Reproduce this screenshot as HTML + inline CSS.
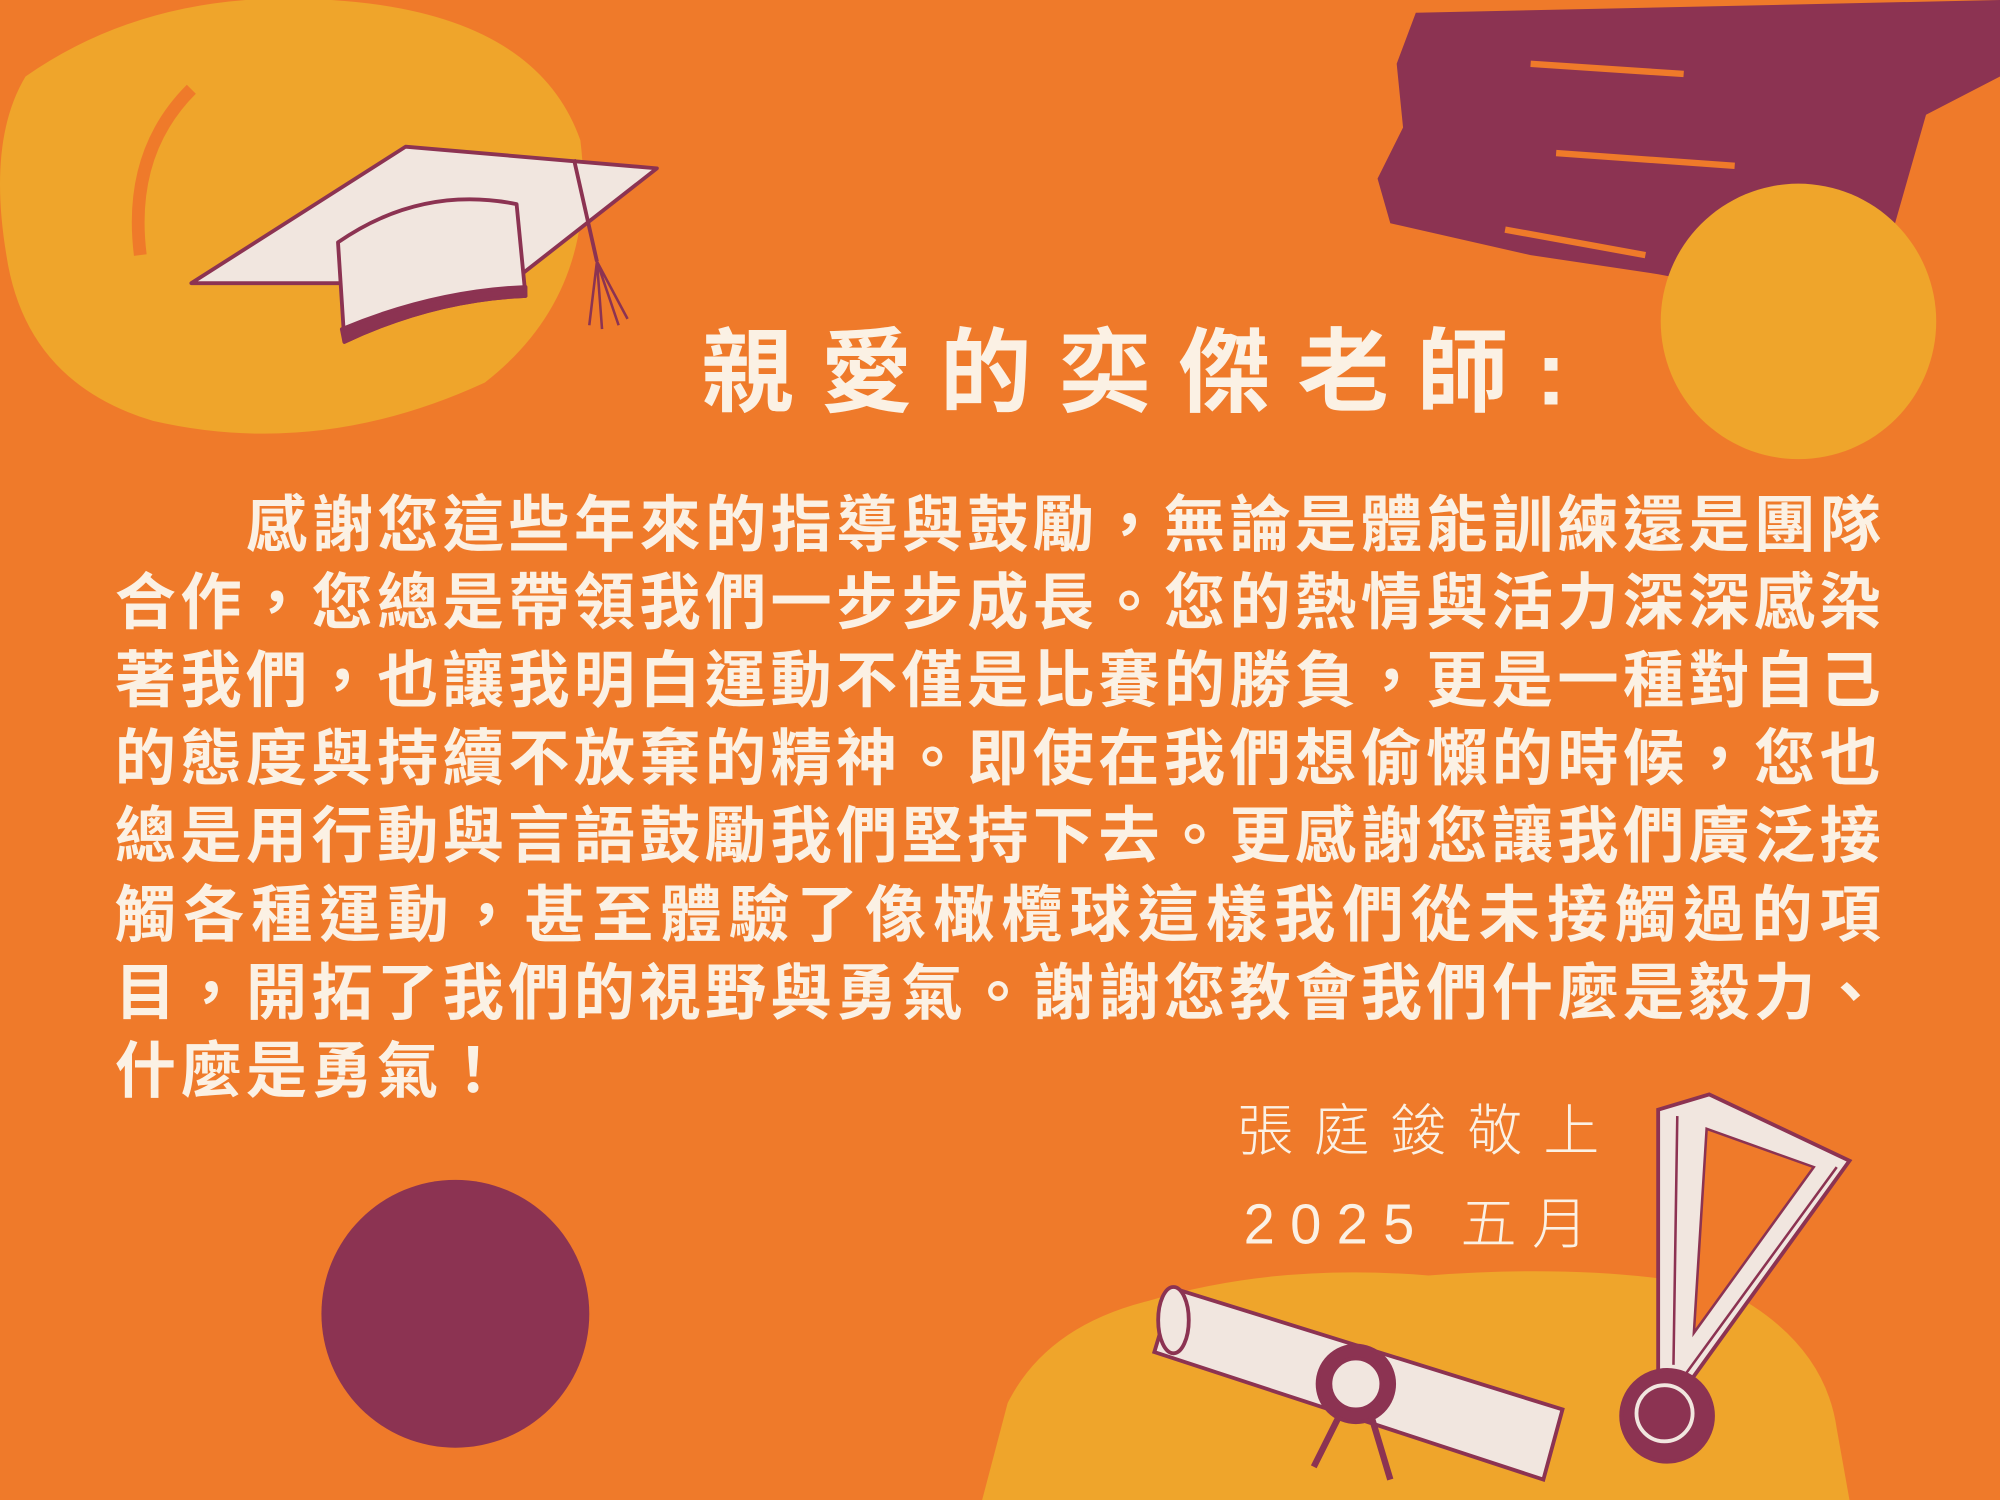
<!DOCTYPE html>
<html><head><meta charset="utf-8"><style>
html,body{margin:0;padding:0;width:2000px;height:1500px;overflow:hidden;background:#ef7a2a}
svg{display:block}
.t{font-family:"Liberation Sans","Noto Sans CJK TC",sans-serif;fill:#fbf1e4}
</style></head><body>
<svg width="2000" height="1500" viewBox="0 0 1568 1176" xmlns="http://www.w3.org/2000/svg">
<rect width="1568" height="1176" fill="#ef7a2a"/>
<g>
<path d="M20 60 Q120 -10 260 0 Q420 10 455 110 Q470 230 380 300 Q250 360 120 330 Q20 300 5 200 Q-10 110 20 60Z" fill="#efa52b"/>
<path d="M150 70 Q100 120 110 200" stroke="#ef7a2a" stroke-width="10" fill="none"/>
</g>
<g>
<path d="M1110 10 L1568 0 L1568 60 L1510 90 L1490 160 L1470 230 L1380 230 L1300 215 L1200 200 L1090 175 L1080 140 L1100 100 L1095 50Z" fill="#8c3352"/>
<path d="M1200 50 L1320 58 M1220 120 L1360 130 M1180 180 L1290 200" stroke="#ef7a2a" stroke-width="5" fill="none"/>
</g>
<circle cx="1410" cy="252" r="108" fill="#efa52b"/>
<circle cx="357" cy="1030" r="105" fill="#8c3352"/>
<path d="M770 1176 L790 1100 Q820 1040 900 1020 Q1000 990 1120 1000 Q1250 990 1350 1010 Q1430 1050 1440 1120 L1450 1176Z" fill="#efa52b"/>
<g stroke="#8c3352" stroke-width="3" stroke-linejoin="round">
<polygon points="150,222 318,115 515,132 400,222" fill="#f1e6df"/>
<path d="M265 190 Q330 145 405 160 L412 232 Q340 235 270 268 Z" fill="#f1e6df"/>
<path d="M270 268 Q340 235 412 232 L412 225 Q340 228 268 258Z" fill="#8c3352"/>
<path d="M450 125 L468 205" fill="none"/>
<path d="M468 205 L462 255 M468 205 L472 258 M468 205 L485 255 M468 205 L492 250" fill="none" stroke-width="2"/>
</g>
<g stroke="#8c3352" stroke-width="3">
<path d="M920 1010 L1225 1105 L1210 1160 L905 1060 Z" fill="#f1e6df"/>
<ellipse cx="920" cy="1035" rx="12" ry="26" fill="#f1e6df"/>
<circle cx="1063" cy="1085" r="30" fill="#8c3352"/>
<circle cx="1063" cy="1085" r="20" fill="#f1e6df"/>
<path d="M1050 1110 L1030 1150 M1075 1110 L1090 1160" fill="none" stroke-width="5"/>
</g>
<g stroke="#8c3352" stroke-width="3">
<polygon points="1300,870 1340,858 1450,910 1320,1090 1300,1080" fill="#f1e6df"/>
<polygon points="1338,885 1422,915 1328,1045" fill="#ef7a2a" stroke-width="2"/>
<path d="M1315 875 L1312 1070 M1440 915 L1318 1082" fill="none" stroke-width="2"/>
<circle cx="1307" cy="1110" r="36" fill="#8c3352"/>
<circle cx="1305" cy="1108" r="22" fill="#8c3352" stroke="#f1e6df"/>
</g>
<text class="t" x="550" y="317" font-size="72" font-weight="bold" textLength="678" lengthAdjust="spacing">親愛的奕傑老師:</text>
<g class="t" font-size="48" font-weight="bold" letter-spacing="3.4">
<text x="193" y="428" textLength="1285" lengthAdjust="spacing">感謝您這些年來的指導與鼓勵，無論是體能訓練還是團隊</text>
<text x="90" y="489" textLength="1388" lengthAdjust="spacing">合作，您總是帶領我們一步步成長。您的熱情與活力深深感染</text>
<text x="90" y="550" textLength="1388" lengthAdjust="spacing">著我們，也讓我明白運動不僅是比賽的勝負，更是一種對自己</text>
<text x="90" y="611" textLength="1388" lengthAdjust="spacing">的態度與持續不放棄的精神。即使在我們想偷懶的時候，您也</text>
<text x="90" y="672" textLength="1388" lengthAdjust="spacing">總是用行動與言語鼓勵我們堅持下去。更感謝您讓我們廣泛接</text>
<text x="90" y="734" textLength="1388" lengthAdjust="spacing">觸各種運動，甚至體驗了像橄欖球這樣我們從未接觸過的項</text>
<text x="90" y="795" textLength="1388" lengthAdjust="spacing">目，開拓了我們的視野與勇氣。謝謝您教會我們什麼是毅力、</text>
<text x="90" y="856">什麼是勇氣！</text>
</g>
<text class="t" x="970" y="902" font-size="44" font-weight="300" letter-spacing="16">張庭鋑敬上</text>
<text class="t" x="975" y="975" font-size="44" font-weight="300" letter-spacing="12">2025 五月</text>
</svg>
</body></html>
